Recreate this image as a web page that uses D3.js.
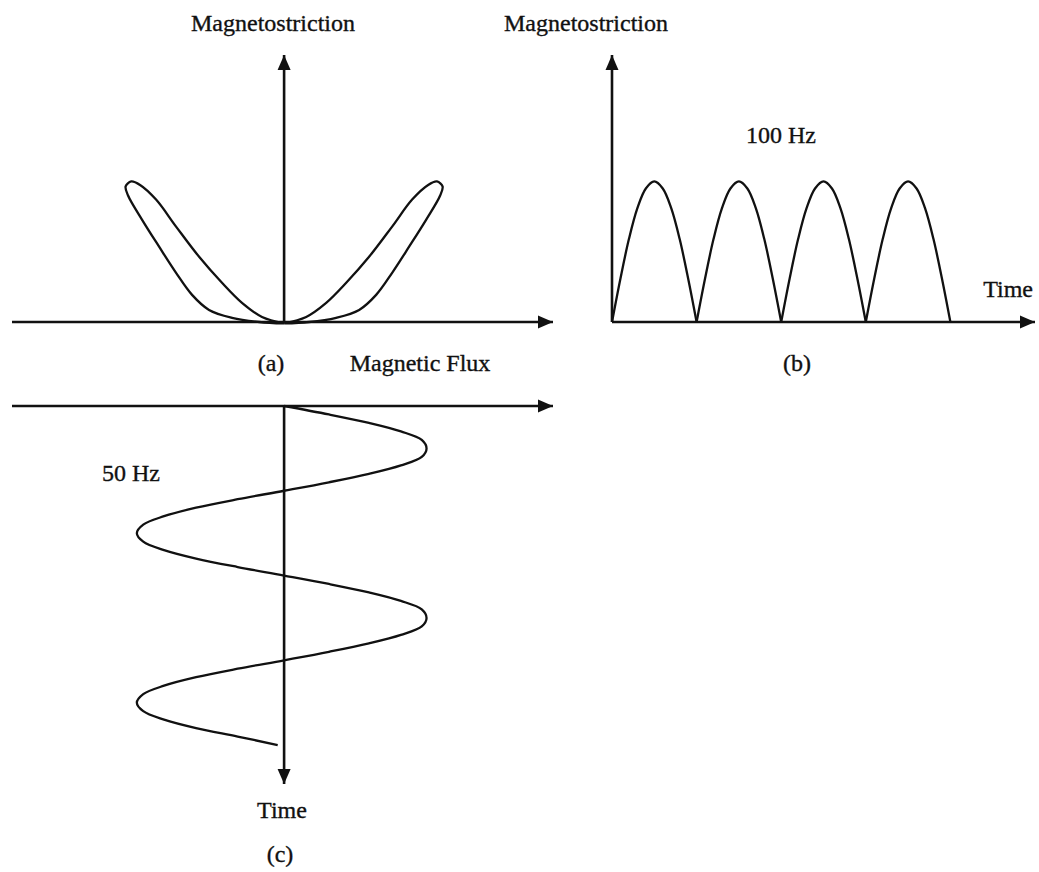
<!DOCTYPE html>
<html lang="en">
    <head>
        <meta charset="utf-8">
        <title>Magnetostriction</title>
        <script type="text/javascript" src="https://cdn.jsdelivr.net/npm/d3@7"></script>
        <style>
            body { margin: 0; background: #fff; }
            text { font-family: "Liberation Serif", "Times New Roman", serif; font-size: 24px; fill: #111; stroke: #111; stroke-width: 0.35px; }
        </style>
    </head>
    <body>
        <script type="text/javascript">
            // (a) butterfly loop, flux vs magnetostriction, one list per loop
            var leftFlux = [0, -0.156, -0.325, -0.469, -0.575, -0.675, -0.781, -0.888, -0.975, -0.99, -0.955, -0.9, -0.8, -0.675, -0.531, -0.388, -0.263, -0.138, 0];
            var leftLambda = [-0.01, 0, 0.03, 0.086, 0.193, 0.35, 0.536, 0.729, 0.9, 0.965, 1.0, 0.975, 0.871, 0.679, 0.464, 0.279, 0.136, 0.036, -0.01];
            var rightFlux = [0, 0.156, 0.325, 0.469, 0.575, 0.675, 0.781, 0.888, 0.975, 0.99, 0.955, 0.9, 0.8, 0.675, 0.531, 0.388, 0.263, 0.138, 0];
            var rightLambda = [-0.01, 0, 0.03, 0.086, 0.193, 0.35, 0.536, 0.729, 0.9, 0.965, 1.0, 0.975, 0.871, 0.679, 0.464, 0.279, 0.136, 0.036, -0.01];

            // (b) 100 Hz magnetostriction, one value per ms
            var timeB = d3.range(0, 41);
            var lambdaB = [0, 0.31, 0.59, 0.81, 0.95, 1, 0.95, 0.81, 0.59, 0.31,
                           0, 0.31, 0.59, 0.81, 0.95, 1, 0.95, 0.81, 0.59, 0.31,
                           0, 0.31, 0.59, 0.81, 0.95, 1, 0.95, 0.81, 0.59, 0.31,
                           0, 0.31, 0.59, 0.81, 0.95, 1, 0.95, 0.81, 0.59, 0.31, 0];

            // (c) 50 Hz flux, one value per ms
            var timeC = d3.range(0, 41);
            var fluxC = [0, 0.28, 0.53, 0.73, 0.86, 0.89, 0.86, 0.73, 0.53, 0.28,
                         0, -0.29, -0.55, -0.75, -0.88, -0.92, -0.88, -0.75, -0.55, -0.29,
                         0, 0.28, 0.53, 0.73, 0.86, 0.89, 0.86, 0.73, 0.53, 0.28,
                         0, -0.29, -0.55, -0.75, -0.88, -0.92, -0.88, -0.75, -0.55, -0.29, -0.04];

            var w = 1039;
            var h = 872;
            var svg = d3.select("body").append("svg").attr("width", w).attr("height", h);
            svg.append("rect").attr("width", w).attr("height", h).attr("fill", "#fff");

            // scales
            var xA = d3.scaleLinear().domain([-1.7, 1.68]).range([12, 553]);
            var yA = d3.scaleLinear().domain([0, 1.9]).range([322, 55]);
            var xB = d3.scaleLinear().domain([0, 50]).range([612, 1035]);
            var yB = d3.scaleLinear().domain([0, 1.9]).range([322, 55]);
            var xC = d3.scaleLinear().domain([-1.7, 1.68]).range([12, 553]);
            var yC = d3.scaleLinear().domain([0, 44.6]).range([406, 784]);

            function arrow(x1, y1, x2, y2) {
                svg.append("line").attr("x1", x1).attr("y1", y1).attr("x2", x2).attr("y2", y2)
                    .attr("stroke", "#111").attr("stroke-width", 2.6);
                var a = Math.atan2(y2 - y1, x2 - x1), len = 15, hw = 6.5;
                var bx = x2 - len * Math.cos(a), by = y2 - len * Math.sin(a);
                var pts = [[x2, y2],
                           [bx + hw * Math.sin(a), by - hw * Math.cos(a)],
                           [bx - hw * Math.sin(a), by + hw * Math.cos(a)]];
                svg.append("polygon").attr("points", pts.map(function(p){ return p.join(","); }).join(" "))
                    .attr("fill", "#111");
            }

            // axes
            arrow(xA.range()[0], yA(0), xA.range()[1], yA(0));
            arrow(xA(0), yA(0), xA(0), yA.range()[1]);
            arrow(xB(0), yB(0), xB.range()[1], yB(0));
            arrow(xB(0), yB(0), xB(0), yB.range()[1]);
            arrow(xC.range()[0], yC(0), xC.range()[1], yC(0));
            arrow(xC(0), yC(0), xC(0), yC.range()[1]);

            // (a) loops
            var lineA = d3.line().curve(d3.curveCatmullRom.alpha(0.5))
                .x(function(d) { return xA(d[0]); }).y(function(d) { return yA(d[1]); });
            [[leftFlux, leftLambda], [rightFlux, rightLambda]].forEach(function(loop) {
                svg.append("path").datum(d3.zip(loop[0], loop[1])).attr("d", lineA)
                    .attr("fill", "none").attr("stroke", "#111").attr("stroke-width", 2.3);
            });

            // (b) rectified humps, split at the zeros
            var lineB = d3.line().curve(d3.curveCatmullRom.alpha(0.5))
                .x(function(d) { return xB(d[0]); }).y(function(d) { return yB(d[1]); });
            var ptsB = d3.zip(timeB, lambdaB);
            for (var k = 0; k < 4; k++) {
                svg.append("path").datum(ptsB.slice(k * 10, k * 10 + 11)).attr("d", lineB)
                    .attr("fill", "none").attr("stroke", "#111").attr("stroke-width", 2.3);
            }

            // (c) sine running down the time axis
            var lineC = d3.line().curve(d3.curveCatmullRom.alpha(0.5))
                .x(function(d) { return xC(d[1]); }).y(function(d) { return yC(d[0]); });
            svg.append("path").datum(d3.zip(timeC, fluxC)).attr("d", lineC)
                .attr("fill", "none").attr("stroke", "#111").attr("stroke-width", 2.3);

            // labels
            function label(txt, x, y, anchor) {
                svg.append("text").attr("x", x).attr("y", y).attr("text-anchor", anchor || "middle").text(txt);
            }
            label("Magnetostriction", 273, 31);
            label("Magnetostriction", 586, 31);
            label("100 Hz", 781, 143);
            label("Time", 1033, 297, "end");
            label("(a)", 271, 371);
            label("Magnetic Flux", 420, 371);
            label("(b)", 797, 371);
            label("50 Hz", 131, 481);
            label("Time", 282, 818);
            label("(c)", 280, 862);
        </script>
    </body>
</html>
